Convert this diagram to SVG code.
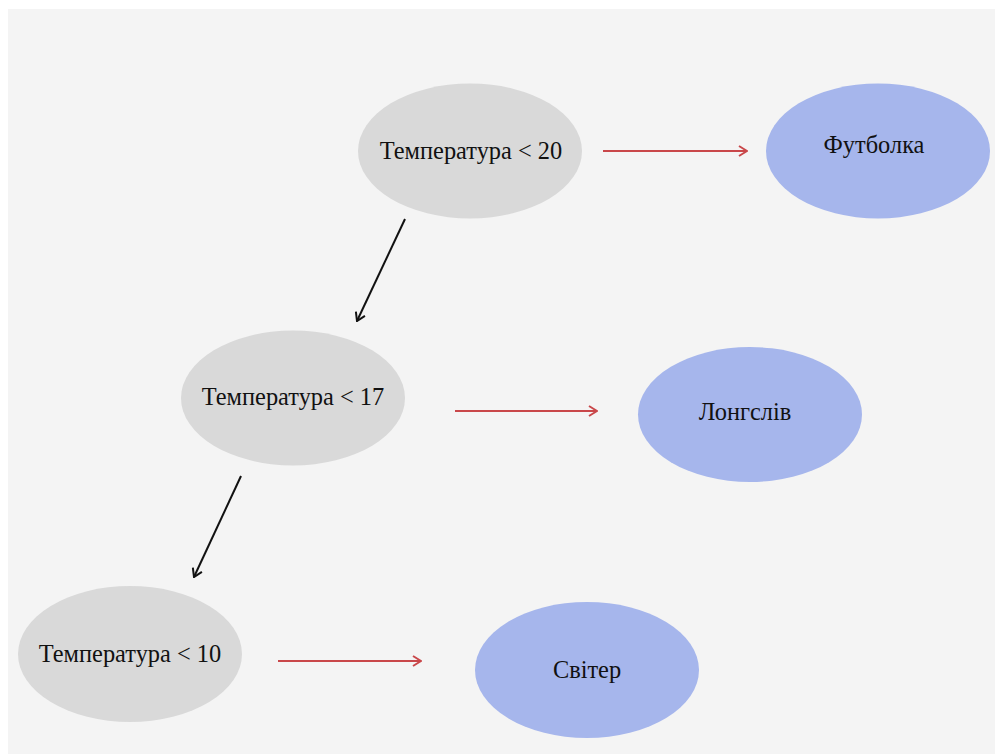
<svg xmlns="http://www.w3.org/2000/svg" width="995" height="754" viewBox="0 0 995 754">
<style>
.cond{fill:#d9d9d9}
.leaf{fill:#a6b6ec}
.lbl{font-family:"Liberation Serif","Times New Roman",serif;font-size:24.4px;fill:#111;text-anchor:middle}
.red{stroke:#c9474a;stroke-width:2;fill:none}
.blk{stroke:#111;stroke-width:2;fill:none}
</style>
<defs>
<marker id="ar" viewBox="0 0 10 12" refX="9" refY="6" markerWidth="10" markerHeight="12" markerUnits="userSpaceOnUse" orient="auto">
<path d="M1,1 L9,6 L1,11" fill="none" stroke="#c9474a" stroke-width="2"/>
</marker>
<marker id="ab" viewBox="0 0 10 12" refX="9" refY="6" markerWidth="10" markerHeight="12" markerUnits="userSpaceOnUse" orient="auto">
<path d="M1,1 L9,6 L1,11" fill="none" stroke="#111" stroke-width="2"/>
</marker>
</defs>
<rect x="0" y="0" width="995" height="754" fill="#ffffff"/>
<rect x="8" y="9" width="987" height="745" fill="#f4f4f4"/>
<g id="connectors">
<line class="red" x1="603" y1="151" x2="747" y2="151" marker-end="url(#ar)"/>
<line class="blk" x1="405" y1="219" x2="357" y2="321" marker-end="url(#ab)"/>
<line class="red" x1="455" y1="411" x2="597" y2="411" marker-end="url(#ar)"/>
<line class="blk" x1="241" y1="476" x2="194" y2="577" marker-end="url(#ab)"/>
<line class="red" x1="278" y1="661" x2="421" y2="661" marker-end="url(#ar)"/>
</g>
<g id="n1">
<ellipse class="cond" cx="470" cy="151" rx="112" ry="67.5"/>
<text class="lbl" x="471" y="159">Температура &lt; 20</text>
</g>
<g id="l1">
<ellipse class="leaf" cx="878" cy="151" rx="112" ry="67.5"/>
<text class="lbl" x="874" y="153">Футболка</text>
</g>
<g id="n2">
<ellipse class="cond" cx="293" cy="398" rx="112" ry="67.5"/>
<text class="lbl" x="293" y="405">Температура &lt; 17</text>
</g>
<g id="l2">
<ellipse class="leaf" cx="750" cy="414.5" rx="112" ry="67.5"/>
<text class="lbl" x="745" y="420">Лонгслів</text>
</g>
<g id="n3">
<ellipse class="cond" cx="130" cy="654" rx="112" ry="68"/>
<text class="lbl" x="130" y="662">Температура &lt; 10</text>
</g>
<g id="l3">
<ellipse class="leaf" cx="587" cy="670" rx="112" ry="68"/>
<text class="lbl" x="587" y="678">Світер</text>
</g>
</svg>
